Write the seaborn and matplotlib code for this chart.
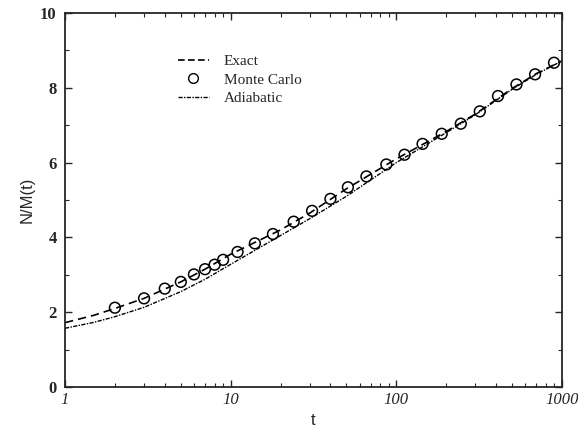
import numpy as np
import pandas as pd
import matplotlib
matplotlib.use("Agg")
import matplotlib.pyplot as plt
import seaborn as sns
from matplotlib.lines import Line2D
from matplotlib.ticker import NullFormatter, MultipleLocator

# Data
curve_t = [1, 1.5, 2, 3, 5, 7, 10, 20, 30, 50, 100, 200, 300, 500, 700, 1000]
exact_vals = [1.72, 1.92, 2.10, 2.37, 2.81, 3.15, 3.55, 4.20, 4.65, 5.30, 6.10, 6.83, 7.30, 7.98, 8.38, 8.72]
adiabatic_vals = [1.57, 1.73, 1.88, 2.13, 2.55, 2.88, 3.28, 4.05, 4.50, 5.10, 6.00, 6.80, 7.28, 7.96, 8.36, 8.72]

mc_t = [2, 3, 4, 5, 6, 7, 8, 9, 11, 14, 18, 24, 31, 40, 51, 66, 87, 112, 144, 188, 245, 319, 411, 531, 688, 895]
mc_vals = [2.12, 2.37, 2.63, 2.81, 3.01, 3.15, 3.27, 3.40, 3.61, 3.84, 4.09, 4.42, 4.71, 5.03, 5.34, 5.63, 5.95,
           6.21, 6.50, 6.77, 7.04, 7.37, 7.78, 8.09, 8.36, 8.67]

x_ticks = [1, 10, 100, 1000]
x_ticklabels = ["1", "10", "100", "1000"]
y_ticks = [0, 2, 4, 6, 8, 10]

sns.set_style("ticks")
plt.rcParams['font.family'] = ['Liberation Serif', 'DejaVu Serif']

fig = plt.figure(figsize=(5.78, 4.36), dpi=100)
ax = fig.add_axes([0.1125, 0.1124, 0.8598, 0.8578])

curves = pd.DataFrame({"t": curve_t, "Exact": exact_vals, "Adiabatic": adiabatic_vals})
mc = pd.DataFrame({"t": mc_t, "val": mc_vals})

sns.lineplot(data=curves, x="t", y="Exact", ax=ax, color="black", lw=1.2,
             linestyle=(0, (5, 3)))
sns.lineplot(data=curves, x="t", y="Adiabatic", ax=ax, color="black", lw=1.0,
             linestyle=(0, (3, 1, 1, 1)))
sns.scatterplot(data=mc, x="t", y="val", ax=ax, marker="o", s=60,
                facecolor="none", edgecolor="black", linewidth=1.1)

ax.set_xscale("log")
ax.set_xlim(1, 1000)
ax.set_ylim(0, 10)
ax.set_xticks(x_ticks)
ax.set_xticklabels(x_ticklabels, fontstyle="italic", fontsize=12)
ax.set_yticks(y_ticks)
ax.set_yticklabels([str(v) for v in y_ticks], fontweight="bold", fontsize=12)
ax.yaxis.set_minor_locator(MultipleLocator(1))
ax.xaxis.set_minor_formatter(NullFormatter())
ax.tick_params(which="both", direction="in", top=True, right=True)
ax.tick_params(which="major", length=5, width=1)
ax.tick_params(which="minor", length=3, width=0.8)
ax.tick_params(axis="y", pad=6)
for sp in ax.spines.values():
    sp.set_linewidth(1.3)
    sp.set_visible(True)

ax.set_xlabel("t", fontsize=12, labelpad=4, family=["Liberation Sans", "DejaVu Sans"])
ax.set_ylabel("N/M(t)", fontsize=12, labelpad=4, family=["Liberation Sans", "DejaVu Sans"])

handles = [
    Line2D([], [], color="black", lw=1.2, linestyle=(0, (4, 2))),
    Line2D([], [], color="black", marker="o", markerfacecolor="none", linestyle="none", markersize=7),
    Line2D([], [], color="black", lw=1.0, linestyle=(0, (3, 1, 1, 1))),
]
ax.legend(handles, ["Exact", "Monte Carlo", "Adiabatic"], loc="upper left",
          bbox_to_anchor=(0.2, 0.925), frameon=False, fontsize=11,
          handlelength=2.0, handletextpad=1.0, labelspacing=0.3)

fig.savefig("out.png", dpi=100)
